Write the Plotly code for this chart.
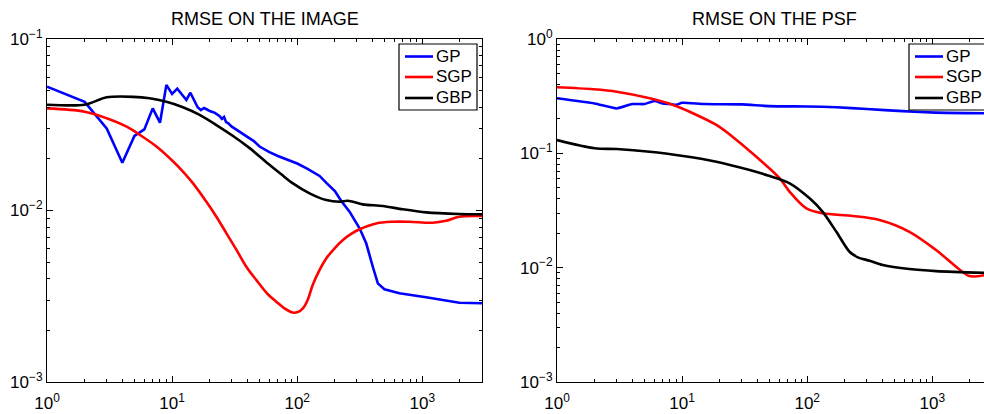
import math
import plotly.graph_objects as go

# ---------------- data: RMSE on the image (left) ----------------
img_gp_x = [1, 2, 3, 4, 5, 6, 7, 8, 9, 10, 11, 12, 13, 14, 15, 16, 17, 18, 19, 20, 22, 24, 25, 26, 27, 28, 30, 35,
            40, 45, 50, 60, 70, 80, 100, 120, 151, 171, 200, 225, 262, 315, 356, 402, 441, 498, 656, 1072, 1977,
            3000]
img_gp_y = [0.0527, 0.043, 0.0301, 0.019, 0.0272, 0.0297, 0.0394, 0.0325, 0.054, 0.0478, 0.0513, 0.0471, 0.0441,
            0.0486, 0.0435, 0.040, 0.0385, 0.0396, 0.0388, 0.038, 0.0371, 0.0355, 0.0342, 0.0351, 0.0328, 0.0323,
            0.0308, 0.0287, 0.0268, 0.0254, 0.0236, 0.0219, 0.0208, 0.01996, 0.0188, 0.01757, 0.0159, 0.0145,
            0.0130, 0.01135, 0.00984, 0.00787, 0.00644, 0.0047, 0.00376, 0.00347, 0.00329, 0.00312, 0.0029,
            0.00288]

img_sgp_x = [1, 2, 3, 4.33, 5.52, 7.5, 10.2, 11.9, 14.7, 18.8, 22.6, 27.2, 32.7, 39.2, 47, 58, 68, 79, 92, 101,
             111, 121, 133, 151, 171, 199, 232, 270, 315, 428, 580, 789, 1211, 1549, 1977, 3000]
img_sgp_y = [0.0394, 0.0377, 0.0345, 0.0308, 0.0276, 0.0236, 0.0193, 0.0172, 0.0144, 0.01125, 0.0092, 0.00736,
             0.00589, 0.0047, 0.00394, 0.00326, 0.00294, 0.00269, 0.00254, 0.00256, 0.00269, 0.0030, 0.00368,
             0.0045, 0.00526, 0.00602, 0.00673, 0.0073, 0.00777, 0.00841, 0.0086, 0.0086, 0.00849, 0.00872,
             0.0092, 0.00929]

img_gbp_x = [1, 2, 3, 4.9, 6.6, 9, 12.2, 16.6, 22.6, 30.7, 41.7, 60.3, 75, 92.4, 125.6, 171, 218, 254, 334, 483,
             698, 1072, 1977, 3000]
img_gbp_y = [0.0414, 0.0414, 0.0457, 0.046, 0.0451, 0.043, 0.040, 0.0361, 0.0315, 0.0272, 0.0231, 0.0184, 0.0162,
             0.0144, 0.0126, 0.0115, 0.01125, 0.0114, 0.01086, 0.01062, 0.01016, 0.00975, 0.00954, 0.0095]

# ---------------- data: RMSE on the PSF (right) ----------------
psf_gp_x = [1, 2, 3, 4, 5, 6, 7, 8, 9, 10, 15, 30, 50, 100, 171, 300, 580, 1072, 2600]
psf_gp_y = [0.303, 0.273, 0.247, 0.27, 0.27, 0.287, 0.273, 0.27, 0.266, 0.277, 0.27, 0.268, 0.259, 0.257, 0.253,
            0.244, 0.234, 0.227, 0.224]

psf_sgp_x = [1, 1.95, 3, 5.52, 8.5, 11.5, 18.8, 27.2, 39.2, 60.3, 72.4, 98.4, 133, 232, 378, 656, 1072, 1549,
             1977, 2600]
psf_sgp_y = [0.378, 0.363, 0.346, 0.303, 0.265, 0.231, 0.177, 0.131, 0.0933, 0.0604, 0.0461, 0.033, 0.0299,
             0.0283, 0.0261, 0.0206, 0.01425, 0.0102, 0.00845, 0.0086]

psf_gbp_x = [1, 2, 3, 5.52, 10.2, 18.8, 34.7, 50.1, 72.4, 104.5, 133, 171, 218, 254, 315, 402, 656, 1072, 2600]
psf_gbp_y = [0.1306, 0.1106, 0.109, 0.1033, 0.0947, 0.0845, 0.0714, 0.0633, 0.0547, 0.0404, 0.0308, 0.0206,
             0.01377, 0.0123, 0.0115, 0.01054, 0.00972, 0.00933, 0.00902]

series_names = ["GP", "SGP", "GBP"]
series_colors = ["#0000ff", "#ff0000", "#000000"]

x_tickvals = [1, 10, 100, 1000]
x_ticktext = ["10<sup>0</sup>", "10<sup>1</sup>", "10<sup>2</sup>", "10<sup>3</sup>"]
yl_tickvals = [0.001, 0.01, 0.1]
yl_ticktext = ["10<sup>\u22123</sup>", "10<sup>\u22122</sup>", "10<sup>\u22121</sup>"]
yr_tickvals = [0.001, 0.01, 0.1, 1]
yr_ticktext = ["10<sup>\u22123</sup>", "10<sup>\u22122</sup>", "10<sup>\u22121</sup>", "10<sup>0</sup>"]

titles = ["RMSE ON THE IMAGE", "RMSE ON THE PSF"]

# ---------------- figure ----------------
W, H = 984, 414
FONT = "Liberation Sans, Arial, Helvetica, sans-serif"
LW = 2.6

fig = go.Figure()

left = [(img_gp_x, img_gp_y, "linear", 0), (img_sgp_x, img_sgp_y, "spline", 1.0),
        (img_gbp_x, img_gbp_y, "spline", 0.8)]
right = [(psf_gp_x, psf_gp_y, "spline", 0.5), (psf_sgp_x, psf_sgp_y, "spline", 0.9),
         (psf_gbp_x, psf_gbp_y, "spline", 0.8)]

for (x, y, shp, sm), name, col in zip(left, series_names, series_colors):
    line = dict(color=col, width=LW, shape=shp)
    if shp == "spline":
        line["smoothing"] = sm
    fig.add_trace(go.Scatter(x=x, y=y, mode="lines", name=name, showlegend=False, line=line,
                             xaxis="x", yaxis="y"))
for (x, y, shp, sm), name, col in zip(right, series_names, series_colors):
    line = dict(color=col, width=LW, shape=shp, smoothing=sm)
    fig.add_trace(go.Scatter(x=x, y=y, mode="lines", name=name, showlegend=False, line=line,
                             xaxis="x2", yaxis="y2"))

# pixel geometry of the axes boxes
LX0, LX1 = 47, 482
RX0 = 557
TOP, BOT = 39, 382
decade = (LX1 - LX0) / math.log10(3000)
r_end = (W - RX0) / decade


def px(v):
    return v / W


def py(v):
    return 1 - v / H


common_axis = dict(type="log", showline=True, linecolor="black", linewidth=1, ticks="inside", ticklen=6,
                   tickcolor="black", tickwidth=1, showgrid=False, zeroline=False,
                   tickfont=dict(family=FONT, size=17, color="black"),
                   minor=dict(ticks="inside", ticklen=3, tickcolor="black", tickwidth=1, dtick="D1",
                              showgrid=False))

fig.update_layout(
    width=W, height=H,
    margin=dict(l=0, r=0, t=0, b=0, autoexpand=False),
    paper_bgcolor="white", plot_bgcolor="white",
    showlegend=False,
    xaxis=dict(common_axis, domain=[px(LX0), px(LX1)], range=[0, math.log10(3000)], anchor="y",
               tickmode="array", tickvals=x_tickvals, ticktext=x_ticktext, mirror="allticks",
               ticklabelstandoff=6),
    yaxis=dict(common_axis, domain=[py(BOT), py(TOP)], range=[-3, -1], anchor="x",
               tickmode="array", tickvals=yl_tickvals, ticktext=yl_ticktext, mirror="allticks",
               ticklabelstandoff=0),
    xaxis2=dict(common_axis, domain=[px(RX0), 1.0], range=[0, r_end], anchor="y2",
                tickmode="array", tickvals=x_tickvals, ticktext=x_ticktext, mirror="allticks",
                ticklabelstandoff=6),
    yaxis2=dict(common_axis, domain=[py(BOT), py(TOP)], range=[-3, 0], anchor="x2",
                tickmode="array", tickvals=yr_tickvals, ticktext=yr_ticktext, mirror=False,
                ticklabelstandoff=0),
)

# titles
for t, x0 in zip(titles, (LX0, RX0)):
    fig.add_annotation(text=t, xref="paper", yref="paper", x=px(x0 + (LX1 - LX0) / 2), y=py(19.5),
                       xanchor="center", yanchor="middle", showarrow=False,
                       font=dict(family=FONT, size=18, color="black"))

# legends (boxes drawn manually to match the MATLAB legend geometry)
for bx0 in (399, 909):
    fig.add_shape(type="rect", xref="paper", yref="paper", x0=px(bx0), x1=px(bx0 + 78), y0=py(110), y1=py(44),
                  line=dict(color="black", width=1.2), fillcolor="white", layer="above")
    for name, col, row in zip(series_names, series_colors, [56.5, 77, 98]):
        fig.add_shape(type="line", xref="paper", yref="paper", x0=px(bx0 + 6), x1=px(bx0 + 34),
                      y0=py(row), y1=py(row), line=dict(color=col, width=LW), layer="above")
        fig.add_annotation(text=name, xref="paper", yref="paper", x=px(bx0 + 35), y=py(row),
                           xanchor="left", yanchor="middle", showarrow=False,
                           font=dict(family=FONT, size=17, color="black"))

fig.write_html("out.html")
